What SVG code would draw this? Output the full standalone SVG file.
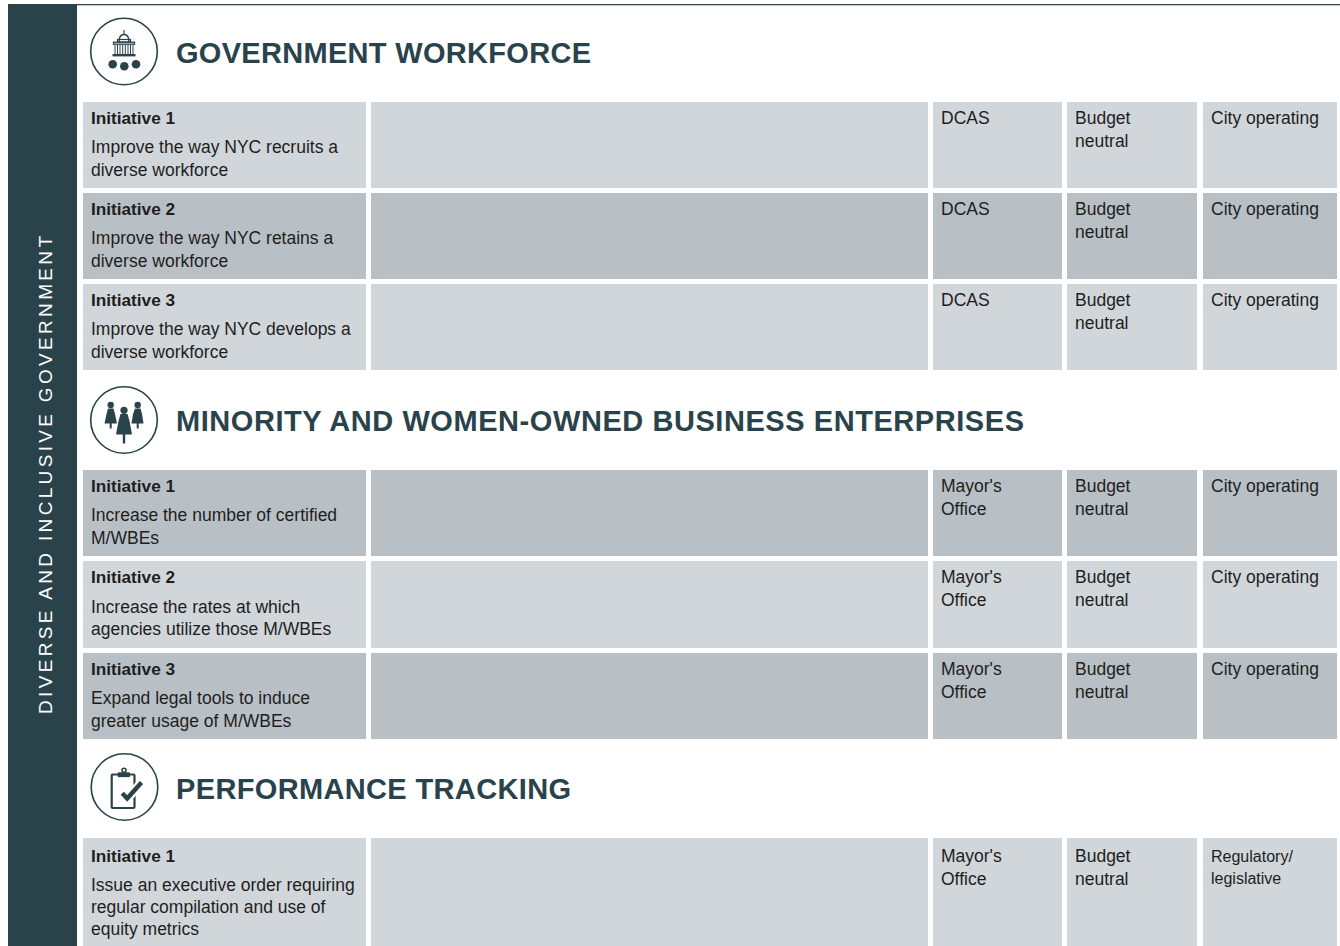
<svg xmlns="http://www.w3.org/2000/svg" width="1340" height="946" viewBox="0 0 1340 946">
<style>
  .bg{fill:#ffffff}
  .side{fill:#2a434b}
  .lt{fill:#d1d6da}
  .dk{fill:#b9c0c5}
  .t{font-family:"Liberation Sans",Arial,Helvetica,sans-serif;font-size:17.5px;fill:#1e1e1e}
  .tb{font-family:"Liberation Sans",Arial,Helvetica,sans-serif;font-size:17.2px;font-weight:bold;fill:#1e1e1e}
  .ts{font-family:"Liberation Sans",Arial,Helvetica,sans-serif;font-size:16px;fill:#1e1e1e}
  .h{font-family:"Liberation Sans",Arial,Helvetica,sans-serif;font-size:29px;font-weight:bold;fill:#2a434b}
  .vt{font-family:"Liberation Sans",Arial,Helvetica,sans-serif;font-size:19px;fill:#ffffff}
  .ring{fill:#ffffff;stroke:#2a434b;stroke-width:1.6}
  .ic{fill:#2a434b}
  .ics{fill:none;stroke:#2a434b}
</style>
<rect class="bg" x="0" y="0" width="1340" height="946"/>

<g id="sidebar">
  <rect class="side" x="8" y="4" width="69" height="942"/>
  <line x1="8" y1="4.6" x2="1340" y2="4.6" stroke="#2a434b" stroke-width="1.3"/>
  <text class="vt" transform="translate(51.5,475) rotate(-90)" x="-239" y="0" textLength="478" lengthAdjust="spacing">DIVERSE AND INCLUSIVE GOVERNMENT</text>
</g>

<g id="connectors"></g>

<!-- Section 1 -->
<g id="section-government-workforce">
  <g id="icon-gov">
    <circle class="ring" cx="124" cy="51.5" r="33.3"/>
    <line class="ics" x1="124" y1="30" x2="124" y2="34.5" stroke-width="1.2"/>
    <path class="ics" stroke-width="1.4" d="M119,42 C119,37 121,34.5 124,34.5 C127,34.5 129,37 129,42"/>
    <rect class="ics" x="117.5" y="39.5" width="13" height="2.5" stroke-width="1.2"/>
    <rect class="ics" x="113.5" y="42.2" width="21" height="2" stroke-width="1.3"/>
    <g class="ics" stroke-width="1">
      <line x1="115" y1="45" x2="115" y2="54"/>
      <line x1="117.5" y1="45" x2="117.5" y2="54"/>
      <line x1="120" y1="45" x2="120" y2="54"/>
      <line x1="122.7" y1="45" x2="122.7" y2="54"/>
      <line x1="125.3" y1="45" x2="125.3" y2="54"/>
      <line x1="128" y1="45" x2="128" y2="54"/>
      <line x1="130.5" y1="45" x2="130.5" y2="54"/>
      <line x1="133" y1="45" x2="133" y2="54"/>
    </g>
    <rect class="ic" x="112.5" y="54" width="23" height="2.4"/>
    <circle class="ic" cx="112.7" cy="64.3" r="4.3"/>
    <circle class="ic" cx="124.3" cy="66.3" r="4.3"/>
    <circle class="ic" cx="136" cy="64.3" r="4.3"/>
  </g>
  <text class="h" x="176" y="63.3" textLength="415" lengthAdjust="spacing">GOVERNMENT WORKFORCE</text>

  <g id="gw-row1">
    <rect class="lt" x="83" y="102" width="283" height="86"/>
    <rect class="lt" x="371" y="102" width="557" height="86"/>
    <rect class="lt" x="933" y="102" width="129" height="86"/>
    <rect class="lt" x="1067" y="102" width="130" height="86"/>
    <rect class="lt" x="1203" y="102" width="134" height="86"/>
    <text class="tb" x="91" y="124">Initiative 1</text>
    <text class="t" x="91" y="153">Improve the way NYC recruits a</text>
    <text class="t" x="91" y="175.5">diverse workforce</text>
    <text class="t" x="941" y="124">DCAS</text>
    <text class="t" x="1075" y="124">Budget</text>
    <text class="t" x="1075" y="147">neutral</text>
    <text class="t" x="1211" y="124">City operating</text>
  </g>
  <g id="gw-row2">
    <rect class="dk" x="83" y="193" width="283" height="86"/>
    <rect class="dk" x="371" y="193" width="557" height="86"/>
    <rect class="dk" x="933" y="193" width="129" height="86"/>
    <rect class="dk" x="1067" y="193" width="130" height="86"/>
    <rect class="dk" x="1203" y="193" width="134" height="86"/>
    <text class="tb" x="91" y="215">Initiative 2</text>
    <text class="t" x="91" y="244">Improve the way NYC retains a</text>
    <text class="t" x="91" y="266.5">diverse workforce</text>
    <text class="t" x="941" y="215">DCAS</text>
    <text class="t" x="1075" y="215">Budget</text>
    <text class="t" x="1075" y="238">neutral</text>
    <text class="t" x="1211" y="215">City operating</text>
  </g>
  <g id="gw-row3">
    <rect class="lt" x="83" y="284" width="283" height="86"/>
    <rect class="lt" x="371" y="284" width="557" height="86"/>
    <rect class="lt" x="933" y="284" width="129" height="86"/>
    <rect class="lt" x="1067" y="284" width="130" height="86"/>
    <rect class="lt" x="1203" y="284" width="134" height="86"/>
    <text class="tb" x="91" y="306">Initiative 3</text>
    <text class="t" x="91" y="335">Improve the way NYC develops a</text>
    <text class="t" x="91" y="357.5">diverse workforce</text>
    <text class="t" x="941" y="306">DCAS</text>
    <text class="t" x="1075" y="306">Budget</text>
    <text class="t" x="1075" y="329">neutral</text>
    <text class="t" x="1211" y="306">City operating</text>
  </g>
</g>

<!-- Section 2 -->
<g id="section-mwbe">
  <g id="icon-mwbe">
    <circle class="ring" cx="124" cy="420" r="33.3"/>
    <circle class="ic" cx="110.7" cy="405" r="3.2"/>
    <path class="ic" d="M108,408.5 L113.5,408.5 L115,414 L117,423.5 L104.5,423.5 L106.5,414 Z"/>
    <rect class="ic" x="109.7" y="423" width="2" height="5.5"/>
    <circle class="ic" cx="137.7" cy="405" r="3.2"/>
    <path class="ic" d="M135,408.5 L140.5,408.5 L142,414 L143.5,423.5 L131.5,423.5 L133,414 Z"/>
    <rect class="ic" x="136.7" y="423" width="2" height="5.5"/>
    <circle class="ic" cx="124" cy="410.3" r="3.6"/>
    <path class="ic" d="M120.5,414 L127.5,414 L129.5,421 L132,434.5 L116,434.5 L118.5,421 Z"/>
    <rect class="ic" x="122.8" y="434" width="2.4" height="9.5"/>
  </g>
  <text class="h" x="176" y="431" textLength="848" lengthAdjust="spacing">MINORITY AND WOMEN-OWNED BUSINESS ENTERPRISES</text>

  <g id="mw-row1">
    <rect class="dk" x="83" y="470" width="283" height="86"/>
    <rect class="dk" x="371" y="470" width="557" height="86"/>
    <rect class="dk" x="933" y="470" width="129" height="86"/>
    <rect class="dk" x="1067" y="470" width="130" height="86"/>
    <rect class="dk" x="1203" y="470" width="134" height="86"/>
    <text class="tb" x="91" y="492">Initiative 1</text>
    <text class="t" x="91" y="521">Increase the number of certified</text>
    <text class="t" x="91" y="543.5">M/WBEs</text>
    <text class="t" x="941" y="492">Mayor's</text>
    <text class="t" x="941" y="515">Office</text>
    <text class="t" x="1075" y="492">Budget</text>
    <text class="t" x="1075" y="515">neutral</text>
    <text class="t" x="1211" y="492">City operating</text>
  </g>
  <g id="mw-row2">
    <rect class="lt" x="83" y="561" width="283" height="87"/>
    <rect class="lt" x="371" y="561" width="557" height="87"/>
    <rect class="lt" x="933" y="561" width="129" height="87"/>
    <rect class="lt" x="1067" y="561" width="130" height="87"/>
    <rect class="lt" x="1203" y="561" width="134" height="87"/>
    <text class="tb" x="91" y="583.3">Initiative 2</text>
    <text class="t" x="91" y="612.5">Increase the rates at which</text>
    <text class="t" x="91" y="635">agencies utilize those M/WBEs</text>
    <text class="t" x="941" y="583.3">Mayor's</text>
    <text class="t" x="941" y="606.3">Office</text>
    <text class="t" x="1075" y="583.3">Budget</text>
    <text class="t" x="1075" y="606.3">neutral</text>
    <text class="t" x="1211" y="583.3">City operating</text>
  </g>
  <g id="mw-row3">
    <rect class="dk" x="83" y="653" width="283" height="86"/>
    <rect class="dk" x="371" y="653" width="557" height="86"/>
    <rect class="dk" x="933" y="653" width="129" height="86"/>
    <rect class="dk" x="1067" y="653" width="130" height="86"/>
    <rect class="dk" x="1203" y="653" width="134" height="86"/>
    <text class="tb" x="91" y="675">Initiative 3</text>
    <text class="t" x="91" y="704">Expand legal tools to induce</text>
    <text class="t" x="91" y="726.5">greater usage of M/WBEs</text>
    <text class="t" x="941" y="675">Mayor's</text>
    <text class="t" x="941" y="698">Office</text>
    <text class="t" x="1075" y="675">Budget</text>
    <text class="t" x="1075" y="698">neutral</text>
    <text class="t" x="1211" y="675">City operating</text>
  </g>
</g>

<!-- Section 3 -->
<g id="section-performance">
  <g id="icon-perf">
    <circle class="ring" cx="124.5" cy="787" r="33.3"/>
    <rect class="ics" x="111.7" y="774.5" width="22.8" height="33.5" rx="1" stroke-width="2.2"/>
    <circle class="ics" cx="124" cy="770.3" r="2" stroke-width="1.6"/>
    <rect class="ic" x="117.8" y="772.3" width="12" height="4.8"/>
    <polyline points="122.3,793.3 127.2,798.5 141.5,782.5" fill="none" stroke="#ffffff" stroke-width="9" stroke-linejoin="miter"/>
    <polyline class="ics" points="122.3,793.3 127.2,798.5 141.5,782.5" stroke-width="4.5" stroke-linejoin="miter"/>
  </g>
  <text class="h" x="176" y="799" textLength="395" lengthAdjust="spacing">PERFORMANCE TRACKING</text>

  <g id="pt-row1">
    <rect class="lt" x="83" y="838" width="283" height="108"/>
    <rect class="lt" x="371" y="838" width="557" height="108"/>
    <rect class="lt" x="933" y="838" width="129" height="108"/>
    <rect class="lt" x="1067" y="838" width="130" height="108"/>
    <rect class="lt" x="1203" y="838" width="134" height="108"/>
    <text class="tb" x="91" y="861.5">Initiative 1</text>
    <text class="t" x="91" y="891">Issue an executive order requiring</text>
    <text class="t" x="91" y="913">regular compilation and use of</text>
    <text class="t" x="91" y="935">equity metrics</text>
    <text class="t" x="941" y="861.5">Mayor's</text>
    <text class="t" x="941" y="884.5">Office</text>
    <text class="t" x="1075" y="861.5">Budget</text>
    <text class="t" x="1075" y="884.5">neutral</text>
    <text class="ts" x="1211" y="861.5">Regulatory/</text>
    <text class="ts" x="1211" y="884">legislative</text>
  </g>
</g>
</svg>
